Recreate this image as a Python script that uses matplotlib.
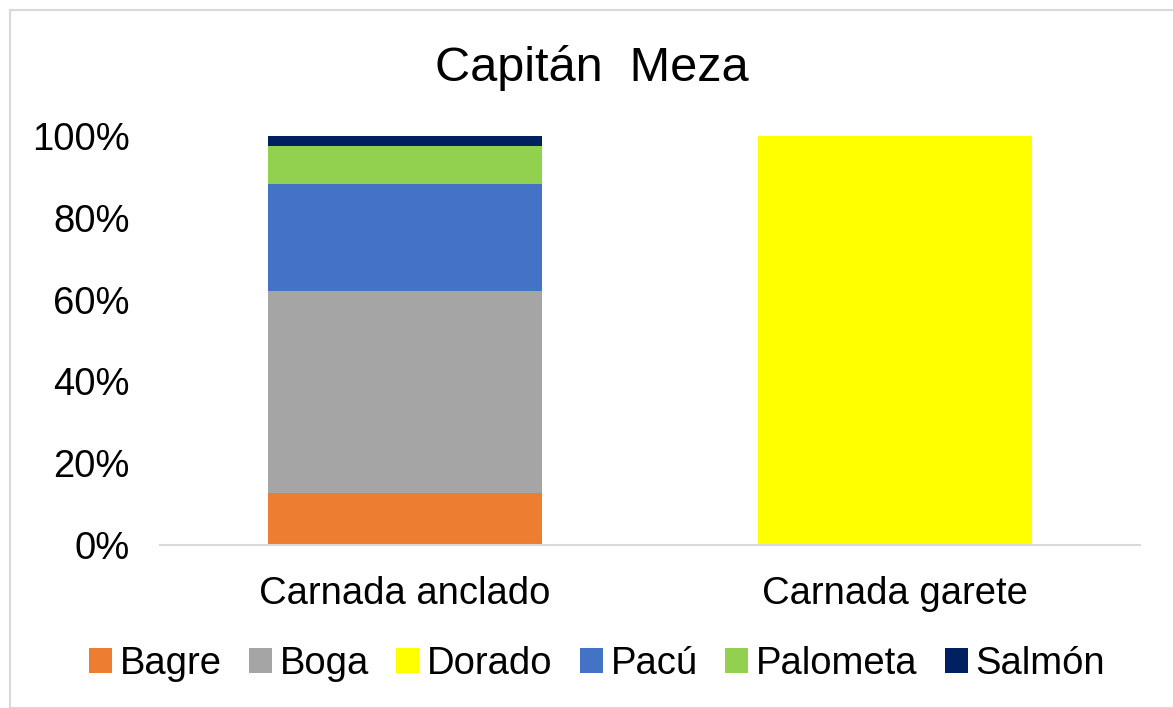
import matplotlib
matplotlib.use("Agg")
import matplotlib.pyplot as plt
from matplotlib.patches import Rectangle, Patch
import numpy as np

plt.rcParams['font.family'] = ['Liberation Sans', 'DejaVu Sans']

title = "Capitán  Meza"
categories = ["Carnada anclado", "Carnada garete"]
species = ["Bagre", "Boga", "Dorado", "Pacú", "Palometa", "Salmón"]
colors = ["#ED7D31", "#A5A5A5", "#FFFF00", "#4472C4", "#92D050", "#002060"]
# percentage share per category
values = {
    "Bagre":    [12.7, 0.0],
    "Boga":     [49.5, 0.0],
    "Dorado":   [0.0, 100.0],
    "Pacú":     [26.1, 0.0],
    "Palometa": [9.3, 0.0],
    "Salmón":   [2.4, 0.0],
}
yticks = [0, 20, 40, 60, 80, 100]
yticklabels = ["0%", "20%", "40%", "60%", "80%", "100%"]

W, H = 1173, 708
fig = plt.figure(figsize=(W / 100, H / 100), dpi=100)
fig.patches.append(Rectangle((10 / W, 0), 1.2, (H - 10) / H, transform=fig.transFigure,
                             fill=False, edgecolor="#d9d9d9", linewidth=1.5))

ax = fig.add_axes([160 / W, 1 - 545 / H, 980 / W, (545 - 136) / H])
x = np.arange(len(categories))
bottom = np.zeros(len(categories))
handles = []
for sp, c in zip(species, colors):
    v = np.array(values[sp])
    ax.bar(x, v, bottom=bottom, width=0.56, color=c, linewidth=0)
    bottom += v
    handles.append(Patch(facecolor=c, edgecolor="none"))

ax.set_xlim(-0.5, 1.5)
ax.set_ylim(0, 100)
ax.set_yticks(yticks)
ax.set_yticklabels(yticklabels, fontsize=27.5)
ax.set_xticks(x)
ax.set_xticklabels(categories, fontsize=27.5)
ax.tick_params(axis="both", length=0)
ax.tick_params(axis="y", pad=22)
ax.tick_params(axis="x", pad=22)
for s in ["top", "right", "left"]:
    ax.spines[s].set_visible(False)
ax.spines["bottom"].set_color("#d9d9d9")
ax.spines["bottom"].set_linewidth(1.5)

fig.text(592 / W, 1 - 68 / H, title, ha="center", va="center", fontsize=35)

fig.legend(handles, species, loc="center", bbox_to_anchor=(597 / W, 1 - 664 / H),
           ncol=6, frameon=False, fontsize=27.5, handlelength=0.6, handleheight=0.6,
           handletextpad=0.2, columnspacing=0.72)

fig.savefig("out.png", dpi=100)
